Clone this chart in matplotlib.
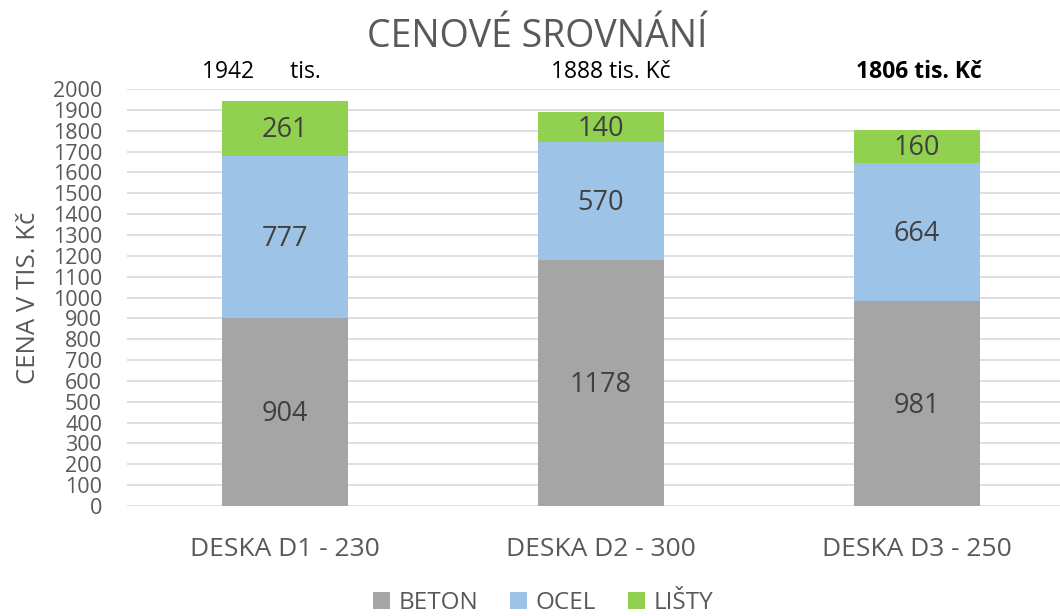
import matplotlib
matplotlib.use("Agg")
import matplotlib.pyplot as plt
import numpy as np

categories = ["DESKA D1 - 230", "DESKA D2 - 300", "DESKA D3 - 250"]
beton = [904, 1178, 981]
ocel = [777, 570, 664]
listy = [261, 140, 160]
totals_labels = ["1942      tis.", "1888 tis. Kč", "1806 tis. Kč"]
series_names = ["BETON", "OCEL", "LIŠTY"]
colors = ["#A5A5A5", "#9DC3E6", "#92D050"]
yticks = list(range(0, 2001, 100))

plt.rcParams['font.family'] = ['Open Sans', 'DejaVu Sans']
txt = "#595959"

fig = plt.figure(figsize=(10.6, 6.16), dpi=100)
ax = fig.add_axes([127/1060, 1 - 506/616, 948/1060, (506 - 89)/616])

x = np.arange(len(categories))
w = 0.40
bottom = np.zeros(len(categories))
for vals, name, c in zip([beton, ocel, listy], series_names, colors):
    ax.bar(x, vals, w, bottom=bottom, color=c, label=name, zorder=3)
    for xi, b, v in zip(x, bottom, vals):
        ax.text(xi, b + v / 2 - 10, str(v), ha='center', va='center', fontsize=19.5, color="#404040", zorder=4)
    bottom = bottom + np.array(vals)

for i, (xi, lab) in enumerate(zip(x, totals_labels)):
    off = -0.075 if i == 0 else (0.03 if i == 1 else 0.005)
    ax.text(xi + off, 2025, lab, ha='center', va='bottom', fontsize=16.5, color="black",
            fontweight='bold' if i == 2 else 'normal', clip_on=False)

ax.set_xlim(-0.5, 2.5)
ax.set_ylim(0, 2000)
ax.set_yticks(yticks)
ax.set_yticklabels([str(t) for t in yticks], fontsize=15.5, color=txt)
ax.set_xticks(x)
ax.set_xticklabels(categories, fontsize=19, color=txt)
ax.tick_params(axis='y', length=0, pad=18)
ax.tick_params(axis='x', length=0, pad=22)
ax.grid(axis='y', color="#D9D9D9", linewidth=1.2, zorder=0)
for s in ax.spines.values():
    s.set_visible(False)

fig.text(29/1060, 1 - 298/616, "CENA V TIS. Kč", rotation=90, ha='center', va='center', fontsize=18.5, color=txt)
fig.text(537/1060, 1 - 37/616, "CENOVÉ SROVNÁNÍ", ha='center', va='center', fontsize=27, color=txt)

handles, labels = ax.get_legend_handles_labels()
leg = fig.legend(handles, labels, loc='center', bbox_to_anchor=(543/1060, 1 - 603/616), ncol=3, frameon=False,
                 fontsize=17.5, handlelength=0.7, handleheight=0.7, handletextpad=0.35, columnspacing=1.3)
for t in leg.get_texts():
    t.set_color(txt)

fig.savefig("out.png", dpi=100)
